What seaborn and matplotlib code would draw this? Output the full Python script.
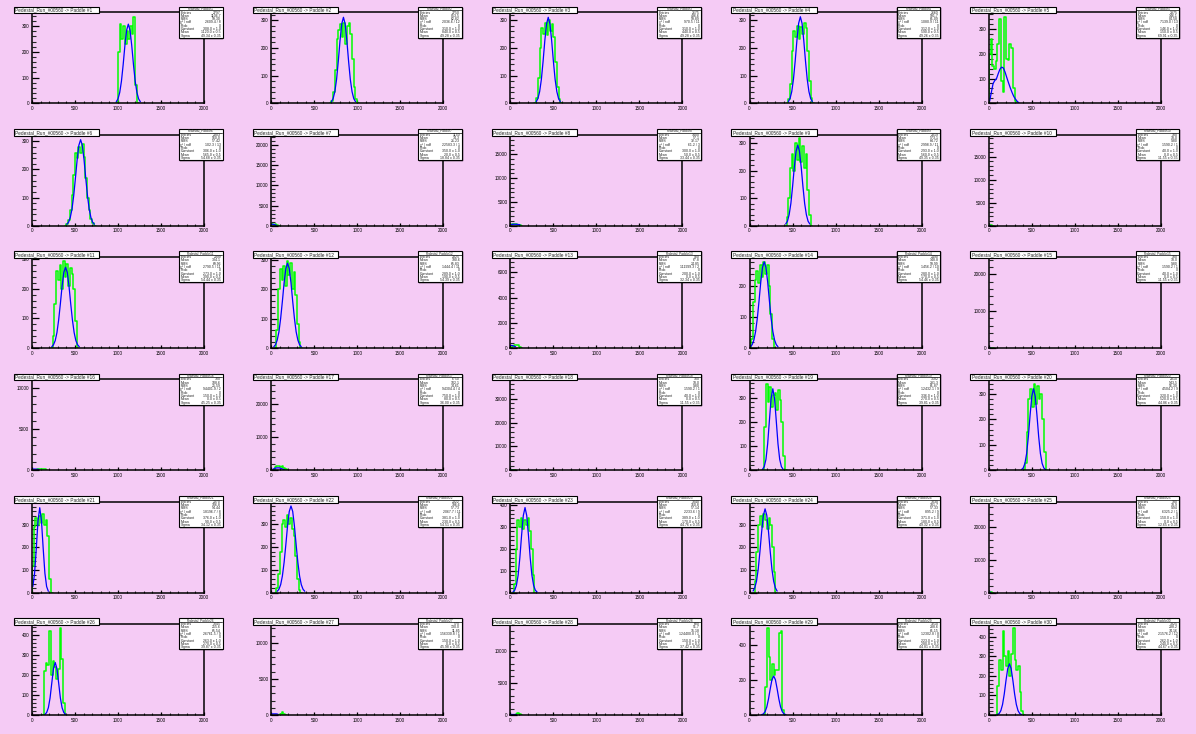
import numpy as np
import pandas as pd
import matplotlib
matplotlib.use("Agg")
import matplotlib.pyplot as plt
from matplotlib.patches import Rectangle
from matplotlib.lines import Line2D
from matplotlib.ticker import MultipleLocator, AutoMinorLocator, FuncFormatter
import seaborn as sns

run_name = "Pedestal_Run_#00560"
paddles = list(range(1, 31))
bin_width = 20
x_ticks = [0, 500, 1000, 1500, 2000]

# y axis range / labelled step per pad
y_top = [354, 328, 328, 328, 367,
         324, 22600, 19150, 331, 19800,
         308, 310, 7230, 296, 24700,
         11000, 27600, 38100, 375, 357,
         403, 400, 416, 403, 27650,
         456, 12600, 14150, 521, 466]
y_step = [100, 100, 100, 100, 100,
          100, 5000, 5000, 100, 5000,
          100, 100, 2000, 100, 10000,
          5000, 10000, 10000, 100, 100,
          100, 100, 100, 100, 10000,
          100, 5000, 5000, 200, 100]

# green: measured pedestal histogram (first bin low edge + counts)
green_start = [1000, 700, 300, 450, 0,
               400, 0, 0, 430, 0,
               240, 60, 20, 20, 0,
               60, 40, 0, 170, 420,
               0, 60, 40, 60, 0,
               140, 100, 60, 180, 100]
green_counts = [
    [200, 310, 250, 300, 230, 280, 250, 300, 270, 337, 70],
    [10, 40, 120, 230, 265, 285, 240, 290, 215, 280, 290, 250, 160, 60, 15],
    [20, 90, 200, 270, 250, 290, 245, 300, 260, 285, 240, 150, 60, 15],
    [15, 70, 190, 260, 240, 280, 230, 275, 250, 290, 270, 190, 80, 20],
    [200, 260, 150, 140, 170, 240, 340, 90, 45, 350, 180, 175, 240, 225, 60, 10],
    [5, 20, 55, 110, 180, 260, 240, 280, 260, 290, 245, 170, 100, 55, 25, 8],
    [400, 250, 350, 150],
    [200, 300, 250, 300, 150, 200],
    [30, 100, 210, 260, 200, 300, 240, 319, 230, 290, 210, 260, 130, 40],
    [60, 40],
    [40, 150, 260, 230, 280, 200, 294, 240, 285, 210, 270, 250, 200, 90],
    [60, 200, 270, 230, 280, 210, 295, 250, 290, 200, 260, 180, 80, 20],
    [150, 200, 250, 200, 100],
    [30, 150, 220, 250, 210, 270, 230, 280, 240, 270, 200, 110, 30],
    [60, 40],
    [100, 200, 150, 150, 100],
    [900, 1200, 1250, 1100, 1200, 800, 300],
    [60, 40],
    [180, 357, 280, 345, 260, 310, 320, 250, 330, 290, 200, 60],
    [30, 150, 280, 320, 250, 340, 260, 330, 280, 300, 200, 70],
    [120, 290, 330, 300, 340, 310, 350, 300, 320, 250, 60],
    [20, 80, 180, 300, 320, 290, 342, 300, 330, 280, 250, 160, 60, 10],
    [40, 200, 330, 300, 340, 290, 330, 310, 340, 280, 200, 80],
    [50, 180, 300, 340, 290, 350, 320, 280, 330, 300, 200, 90],
    [100, 80],
    [220, 260, 250, 420, 200, 270, 240, 180, 230, 435, 280, 60],
    [100, 370, 100],
    [150, 250, 200],
    [160, 500, 330, 200, 290, 230, 260, 260, 470, 480, 30],
    [150, 280, 230, 429, 300, 250, 330, 200, 310, 446, 280, 230, 250, 120, 20],
]

# blue: gaussian fit curve, sampled every bin_width from blue_start
blue_start = [980, 700, 300, 450, 10,
              405, 0, 10, 420, 0,
              230, 30, 0, 10, 0,
              0, 20, 0, 150, 380,
              10, 70, 30, 40, 0,
              150, 0, 0, 140, 100]
blue_values = [
    [6, 17, 42, 86, 150, 224, 284, 308, 284, 224, 150, 86, 42, 17, 6],
    [6, 17, 42, 86, 151, 225, 286, 310, 286, 225, 151, 86, 42, 17, 6],
    [6, 17, 42, 86, 151, 225, 286, 310, 286, 225, 151, 86, 42, 17, 6],
    [6, 17, 42, 87, 152, 226, 288, 312, 288, 226, 152, 87, 42, 17, 6],
    [10, 45, 80, 92, 100, 120, 138, 146, 142, 125, 103, 82, 62, 44, 28, 17, 8, 2],
    [5, 12, 29, 59, 107, 169, 235, 286, 306, 286, 235, 169, 107, 59, 29, 12, 5],
    [300, 350, 250, 80],
    [250, 280, 300, 280, 250, 200],
    [6, 16, 40, 81, 143, 213, 270, 293, 270, 213, 143, 81, 40, 16, 6],
    [40, 20],
    [4, 11, 25, 52, 95, 150, 210, 256, 273, 256, 210, 150, 95, 52, 25, 11, 4],
    [4, 11, 27, 55, 101, 159, 222, 270, 289, 270, 222, 159, 101, 55, 27, 11, 4],
    [200, 200, 150, 100],
    [4, 11, 26, 54, 97, 154, 215, 262, 280, 262, 215, 154, 97, 54, 26, 11, 4],
    [40, 20],
    [150, 150, 150, 120, 100],
    [300, 600, 700, 750, 700, 500, 300, 100],
    [40, 20],
    [4, 15, 45, 109, 204, 296, 336, 296, 204, 109, 45, 15, 4],
    [3, 9, 27, 66, 132, 216, 290, 320, 290, 216, 132, 66, 27, 9, 3],
    [27, 86, 196, 319, 376, 319, 196, 86, 27, 6],
    [6, 15, 35, 73, 133, 210, 293, 357, 381, 357, 293, 210, 133, 73, 35, 15, 6],
    [3, 11, 33, 80, 160, 262, 352, 389, 352, 262, 160, 80, 33, 11, 3],
    [7, 21, 50, 103, 181, 269, 342, 371, 342, 269, 181, 103, 50, 21, 7],
    [150, 100],
    [3, 12, 36, 85, 160, 232, 263, 232, 160, 85, 36, 12, 3],
    [150, 150, 150, 150, 100],
    [150, 150, 150, 150],
    [2, 6, 19, 46, 92, 150, 202, 223, 202, 150, 92, 46, 19, 6, 2],
    [2, 7, 22, 54, 108, 177, 237, 262, 237, 177, 108, 54, 22, 7, 2],
]

# ---- style ----
sns.set_style("white")
plt.rcParams['font.family'] = ['Liberation Sans', 'DejaVu Sans']

pink = "#f5cbf5"
W, H = 1196, 734
pad_w, pad_h = W / 5, H / 6

fig = plt.figure(figsize=(W / 100, H / 100), dpi=100)
fig.patch.set_facecolor(pink)


def fx(px):
    return px / W


def fy(py):
    return 1 - py / H


def frame_box(x1, y1, x2, y2, shadow=True):
    # ROOT-like pave: white box, black border, thin drop shadow
    if shadow:
        fig.add_artist(Rectangle((fx(x1 + 0.9), fy(y2 + 0.9)), fx(x2 - x1), (y2 - y1) / H,
                                 transform=fig.transFigure, facecolor="black",
                                 edgecolor="black", lw=0.3, zorder=5))
    fig.add_artist(Rectangle((fx(x1), fy(y2)), fx(x2 - x1), (y2 - y1) / H,
                             transform=fig.transFigure, facecolor="white",
                             edgecolor="black", lw=0.8, zorder=6))


int_fmt = FuncFormatter(lambda v, p: f"{int(round(v))}")

for i, p in enumerate(paddles):
    col, row = i % 5, i // 5
    x0, y0 = col * pad_w, row * pad_h
    ax = fig.add_axes([fx(x0 + 32), fy(y0 + 103.3), 172 / W, 91 / H])
    ax.set_facecolor(pink)

    # pad the histogram with empty bins so the outline drops to zero like ROOT
    g = np.concatenate([[0], green_counts[i], [0]])
    lo = green_start[i] - bin_width
    centers = lo + bin_width * (np.arange(len(g)) + 0.5)
    hist_df = pd.DataFrame({"adc": centers, "counts": g})
    sns.histplot(data=hist_df, x="adc", weights="counts", binwidth=bin_width,
                 binrange=(lo, lo + bin_width * len(g)), element="step", fill=False,
                 color="#00ff00", linewidth=1.1, ax=ax)

    b = np.array(blue_values[i])
    bx = blue_start[i] + bin_width * np.arange(len(b))
    fit_df = pd.DataFrame({"adc": bx, "fit": b})
    sns.lineplot(data=fit_df, x="adc", y="fit", color="#0000ff", linewidth=0.9, ax=ax)

    ax.set_xlim(x_ticks[0], x_ticks[-1])
    ax.set_ylim(0, y_top[i])
    ax.set_xlabel("")
    ax.set_ylabel("")
    ax.xaxis.set_major_locator(MultipleLocator(500))
    ax.xaxis.set_minor_locator(MultipleLocator(100))
    ax.yaxis.set_major_locator(MultipleLocator(y_step[i]))
    ax.yaxis.set_minor_locator(AutoMinorLocator(5))
    ax.xaxis.set_major_formatter(int_fmt)
    ax.yaxis.set_major_formatter(int_fmt)
    ax.tick_params(axis="y", which="major", direction="in", length=5, width=0.9,
                   labelsize=3.3, pad=2, colors="black", left=True)
    ax.tick_params(axis="y", which="minor", direction="in", length=2.6, width=0.8, left=True)
    ax.tick_params(axis="x", which="major", direction="in", length=2.4, width=0.9,
                   labelsize=3.3, pad=2, colors="black", bottom=True)
    ax.tick_params(axis="x", which="minor", direction="in", length=1.2, width=0.8, bottom=True)
    for s in ax.spines.values():
        s.set_color("black")
        s.set_linewidth(1.1)

    # title pave
    frame_box(x0 + 13.5, y0 + 6.7, x0 + 99, y0 + 13.3, shadow=False)
    fig.text(fx(x0 + 15), fy(y0 + 10.1), f"{run_name} -> Paddle #{p}",
             fontsize=3.45, va="center", ha="left", zorder=7)

    # stats pave with fit results
    gc = np.array(green_counts[i], dtype=float)
    gx = green_start[i] + bin_width * (np.arange(len(gc)) + 0.5)
    entries = gc.sum()
    mean = (gc * gx).sum() / entries
    rms = np.sqrt((gc * (gx - mean) ** 2).sum() / entries)
    const = b.max()
    fmean = bx[np.argmax(b)]
    fsig = np.sqrt((b * (bx - fmean) ** 2).sum() / b.sum())
    expected = np.interp(gx, bx, b, left=0.5, right=0.5)
    chi2 = ((gc - expected) ** 2 / np.maximum(expected, 1)).sum()
    ndf = max(len(gc) - 3, 1)
    rows = [("Entries", f"{int(entries)}"), ("Mean", f"{mean:.1f}"),
            ("RMS", f"{rms:.2f}"), ("\u03c7\u00b2 / ndf", f"{chi2:.1f} / {ndf}"),
            ("Prob", "0"), ("Constant", f"{const:.1f} \u00b1 1.0"),
            ("Mean", f"{fmean:.1f} \u00b1 0.5"), ("Sigma", f"{fsig:.2f} \u00b1 0.35")]

    sx1, sy1, sx2, sy2 = x0 + 179, y0 + 6.7, x0 + 222.5, y0 + 37.7
    frame_box(sx1, sy1, sx2, sy2)
    fig.text(fx((sx1 + sx2) / 2), fy(sy1 + 1.8), f"Pedestal_Paddle{p}",
             fontsize=2.3, ha="center", va="center", zorder=7)
    fig.add_artist(Line2D([fx(sx1), fx(sx2)], [fy(sy1 + 3.6), fy(sy1 + 3.6)],
                          transform=fig.transFigure, color="black", lw=0.5, zorder=7))
    for k, (lab, val) in enumerate(rows):
        yy = fy(sy1 + 5.8 + k * 3.3)
        fig.text(fx(sx1 + 1.5), yy, lab, fontsize=2.5, ha="left", va="center", zorder=7)
        fig.text(fx(sx2 - 1.5), yy, val, fontsize=2.5, ha="right", va="center", zorder=7)

fig.savefig("out.png", dpi=100, facecolor=pink)
